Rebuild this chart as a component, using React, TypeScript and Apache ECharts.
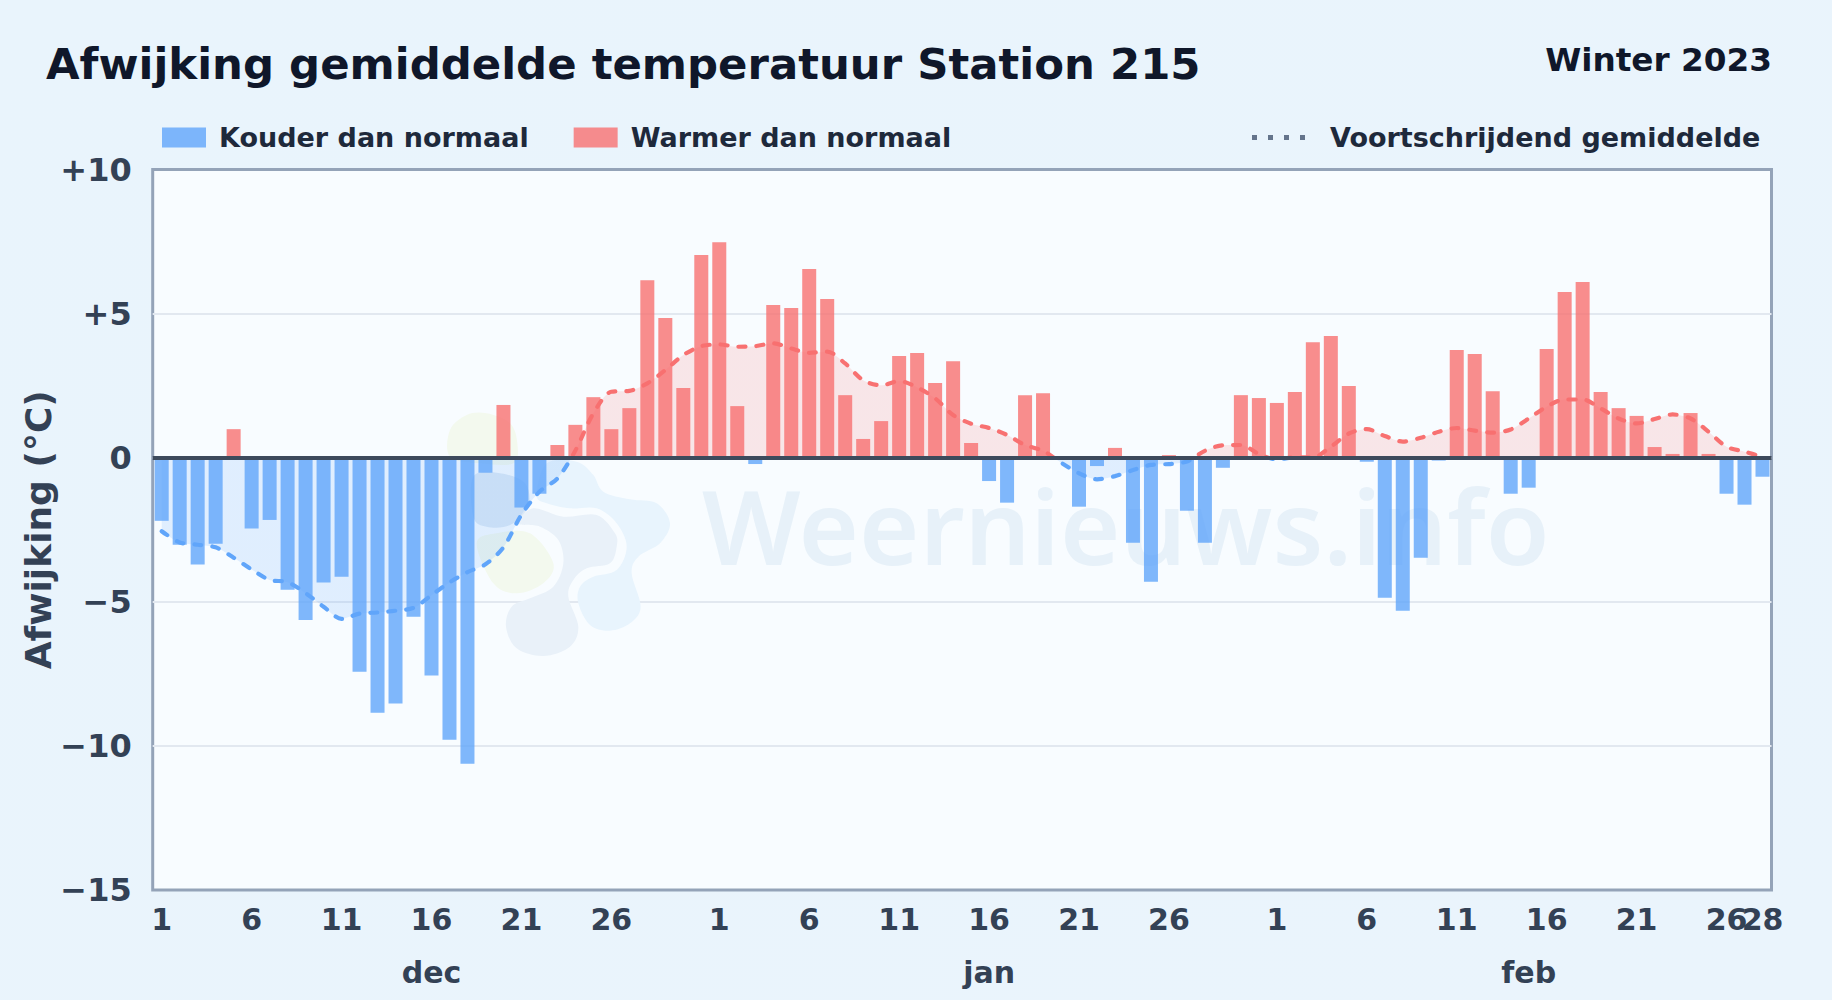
import React, { useEffect, useRef } from "react";
import * as echarts from "echarts";

const titleText = "Afwijking gemiddelde temperatuur Station 215";
const seasonText = "Winter 2023";
const coldName = "Kouder dan normaal";
const warmName = "Warmer dan normaal";
const avgName = "Voortschrijdend gemiddelde";
const yAxisName = "Afwijking (°C)";

const decDeviation = [
  -2.19, -3.02, -3.71, -2.99, 0.99, -2.46, -2.16, -4.58, -5.63, -4.33, -4.13, -7.43, -8.85, -8.53, -5.52, -7.56,
  -9.79, -10.62, -0.52, 1.83, -1.73, -1.25, 0.44, 1.14, 2.1, 0.99, 1.72, 6.16, 4.85, 2.42, 7.03,
];
const janDeviation = [
  7.48, 1.79, -0.22, 5.3, 5.19, 6.55, 5.51, 2.17, 0.65, 1.27, 3.53, 3.63, 2.59, 3.35, 0.51, -0.81,
  -1.56, 2.17, 2.24, 0, -1.7, -0.29, 0.34, -2.95, -4.3, 0.09, -1.84, -2.95, -0.35, 2.17, 2.07,
];
const febDeviation = [
  1.9, 2.28, 4.01, 4.22, 2.49, -0.14, -4.86, -5.31, -3.47, -0.1, 3.74, 3.6, 2.31, -1.25, -1.04, 3.77,
  5.75, 6.1, 2.28, 1.72, 1.45, 0.37, 0.13, 1.55, 0.13, -1.25, -1.63, -0.66,
];
const decAverage = [
  -2.55, -2.94, -3.02, -3.11, -3.47, -3.88, -4.24, -4.32, -4.7, -5.17, -5.59, -5.41, -5.37, -5.31, -5.21, -4.77,
  -4.33, -3.97, -3.7, -3.11, -1.98, -1.18, -0.72, 0.25, 1.54, 2.29, 2.32, 2.58, 3.04, 3.56, 3.87,
];
const janAverage = [
  3.93, 3.85, 3.87, 3.97, 3.79, 3.64, 3.68, 3.27, 2.69, 2.51, 2.66, 2.44, 2.06, 1.48, 1.18, 1.03,
  0.79, 0.44, 0.24, -0.17, -0.54, -0.75, -0.64, -0.43, -0.25, -0.22, -0.13, 0.24, 0.43, 0.44, 0.13,
];
const febAverage = [
  -0.06, 0.01, 0.01, 0.38, 0.84, 0.99, 0.75, 0.56, 0.69, 0.9, 1.03, 0.94, 0.87, 0.98, 1.36, 1.77,
  2.02, 2.02, 1.71, 1.36, 1.19, 1.34, 1.5, 1.36, 0.9, 0.38, 0.21, 0.03,
];
const decTicks = [1, 6, 11, 16, 21, 26];
const janTicks = [1, 6, 11, 16, 21, 26];
const febTicks = [1, 6, 11, 16, 21, 26];
const monthLabels = ["dec", "jan", "feb"];
const monthLabelDays = [16, 16, 15];
const monthLengths = [31, 31, 28];

const deviation = [...decDeviation, ...janDeviation, ...febDeviation];
const average = [...decAverage, ...janAverage, ...febAverage];
const categories: string[] = [];
const monthOffsets = [0, 31, 62];
monthLengths.forEach((len, m) => {
  for (let d = 1; d <= len; d++) categories.push(`${monthLabels[m]} ${d}`);
});
const dayOf = (c: string) => c.split(" ")[1];
const tickIdx = new Set<number>();
[decTicks, janTicks, febTicks].forEach((t, m) => t.forEach((d) => tickIdx.add(monthOffsets[m] + d - 1)));
const lastIdx = categories.length - 1;
const monthIdx = new Map<number, string>();
monthLabelDays.forEach((d, m) => monthIdx.set(monthOffsets[m] + d - 1, monthLabels[m]));

const coldValues = deviation.map((v) => (v < 0 ? v : null));
const warmValues = deviation.map((v) => (v >= 0 ? v : null));

// smooth closed outline for the pale watermark blobs (coordinates of the logo, not data)
function blobPath(pts: number[][]) {
  const n = pts.length;
  let d = `M${pts[0][0]} ${pts[0][1]}`;
  for (let i = 0; i < n; i++) {
    const p0 = pts[(i - 1 + n) % n], p1 = pts[i], p2 = pts[(i + 1) % n], p3 = pts[(i + 2) % n];
    const c1 = [p1[0] + (p2[0] - p0[0]) / 6, p1[1] + (p2[1] - p0[1]) / 6];
    const c2 = [p2[0] - (p3[0] - p1[0]) / 6, p2[1] - (p3[1] - p1[1]) / 6];
    d += `C${c1[0]} ${c1[1]} ${c2[0]} ${c2[1]} ${p2[0]} ${p2[1]}`;
  }
  return d + "Z";
}
const toPage = (pts: number[][]) => pts.map(([x, y]) => [430 + x / 3, 400 + y / 3]);
const logoShapes: [string, number[][], string][] = [
  ["wnGrey", [[310, 325], [400, 350], [500, 345], [555, 400], [560, 440], [540, 490], [470, 505], [430, 540], [415, 590], [445, 680], [420, 740], [340, 768], [260, 745], [228, 680], [245, 620], [300, 595], [370, 560], [400, 490], [385, 420], [330, 380], [265, 370]], "#E9F1F9"],
  ["wnSky", [[350, 190], [440, 185], [490, 225], [520, 275], [600, 298], [680, 310], [720, 370], [690, 430], [625, 470], [605, 520], [632, 620], [600, 670], [540, 692], [480, 675], [445, 610], [450, 560], [490, 530], [560, 510], [590, 440], [560, 370], [500, 325], [420, 325], [350, 310], [320, 285]], "#E8F4FD"],
  ["wnBlue", [[130, 230], [210, 220], [285, 250], [295, 320], [240, 375], [170, 380], [130, 350]], "#DCE9F6"],
  ["wnGreenA", [[60, 90], [110, 45], [170, 40], [240, 70], [262, 130], [250, 190], [150, 190], [60, 170]], "#F3F9EE"],
  ["wnGreenB", [[140, 430], [200, 400], [300, 400], [370, 490], [340, 550], [260, 580], [190, 550]], "#F3F9EE"],
];
logoShapes.forEach(([name, pts]) => {
  echarts.graphic.registerShape(name, echarts.graphic.extendPath(blobPath(toPage(pts)), {}));
});
const dotsIcon = "path://M0 0h5v5H0zM16 0h5v5H16zM32 0h5v5H32zM48 0h5v5H48z";

const font = "DejaVu Sans";
const axisColor = "#334155";
const hiddenAxisParts = { axisLine: { show: false }, axisTick: { show: false }, splitLine: { show: false } };
const dayLabelStyle = { margin: 14, color: axisColor, fontFamily: font, fontSize: 30, fontWeight: "bold" };

export default function App() {
  const ref = useRef<HTMLDivElement>(null);
  useEffect(() => {
    document.body.style.margin = "0";
    const chart = echarts.init(ref.current!, undefined, { renderer: "svg" });
    chart.setOption({
      animation: false,
      backgroundColor: {
        type: "linear", x: 0, y: 0, x2: 1, y2: 1,
        colorStops: [{ offset: 0, color: "#E9F4FC" }, { offset: 1, color: "#EAF4FC" }],
      },
      textStyle: { fontFamily: font },
      title: [
        { text: titleText, left: 46, top: 42, padding: 0, textStyle: { fontFamily: font, fontSize: 43.4, fontWeight: "bold", color: "#0F172A" } },
        { text: seasonText, right: 60, top: 43.5, padding: 0, textStyle: { fontFamily: font, fontSize: 32.7, fontWeight: "bold", color: "#0F172A" } },
      ],
      legend: [
        {
          left: 162, top: 124, padding: 0, itemWidth: 44, itemHeight: 20, itemGap: 45, icon: "rect",
          data: [coldName, warmName],
          textStyle: { fontFamily: font, fontSize: 27, fontWeight: "bold", color: "#1E293B", padding: [0, 0, 0, 8] },
        },
        {
          left: 1252, top: 124, padding: 0, itemWidth: 55, itemHeight: 5,
          data: [{ name: avgName, icon: dotsIcon, itemStyle: { color: "#64748B" } }],
          textStyle: { fontFamily: font, fontSize: 27, fontWeight: "bold", color: "#1E293B", padding: [0, 0, 0, 19] },
        },
      ],
      grid: {
        left: 152.7, top: 169.5, width: 1618.8, height: 720.5,
        show: true, backgroundColor: "#F8FCFF", borderColor: "#94A3B8", borderWidth: 3,
      },
      xAxis: [
        {
          type: "category", data: categories, position: "bottom", ...hiddenAxisParts,
          axisLabel: {
            ...dayLabelStyle,
            interval: (i: number) => tickIdx.has(i),
            formatter: (v: string) => dayOf(v),
          },
        },
        {
          type: "category", data: categories, position: "bottom", ...hiddenAxisParts,
          axisLabel: {
            ...dayLabelStyle,
            interval: (i: number) => i === lastIdx,
            formatter: (v: string) => dayOf(v),
          },
        },
        {
          type: "category", data: categories, position: "bottom", ...hiddenAxisParts,
          axisLabel: {
            interval: (i: number) => monthIdx.has(i),
            formatter: (_: string, i: number) => monthIdx.get(i) ?? "",
            margin: 67, color: axisColor, fontFamily: font, fontSize: 30, fontWeight: "bold",
          },
        },
      ],
      yAxis: {
        type: "value", min: -15, max: 10, interval: 5,
        name: yAxisName, nameLocation: "middle", nameGap: 96, nameRotate: 90, nameMoveOverlap: false,
        nameTextStyle: { fontFamily: font, fontSize: 36, fontWeight: "bold", color: axisColor },
        axisLine: { show: false }, axisTick: { show: false },
        splitLine: { show: true, showMinLine: false, showMaxLine: false, lineStyle: { color: "#E2E8F0", width: 2 } },
        axisLabel: {
          margin: 21, color: axisColor, fontFamily: font, fontSize: 32, fontWeight: "bold",
          formatter: (v: number) => (v > 0 ? `+${v}` : v < 0 ? `\u2212${Math.abs(v)}` : "0"),
        },
      },
      visualMap: {
        show: false, seriesIndex: 2, dimension: 1,
        pieces: [{ gte: -20, lte: 0, color: "#60A5FA" }, { gt: 0, lte: 20, color: "#F87171" }],
      },
      graphic: {
        elements: [
          ...logoShapes.map(([name, , fill]) => ({ type: name, x: 0, y: 0, z: 1, silent: true, style: { fill } })),
          {
            type: "text", x: 702, y: 524, z: 1, silent: true,
            style: { text: "Weernieuws.info", font: '600 103.5px "Noto Sans"', verticalAlign: "middle", fill: "#E7F1F9" },
          },
        ],
      },
      series: [
        {
          name: coldName, type: "bar", data: coldValues, barWidth: 14, barGap: "-100%", z: 3,
          itemStyle: { color: "#60A5FA", opacity: 0.8 },
          markLine: {
            silent: true, symbol: "none", label: { show: false }, z: 6,
            lineStyle: { color: "#3D4A5C", width: 4, type: "solid" },
            data: [{ yAxis: 0 }],
          },
        },
        {
          name: warmName, type: "bar", data: warmValues, barWidth: 14, barGap: "-100%", z: 3,
          itemStyle: { color: "#F87171", opacity: 0.8 },
        },
        {
          name: avgName, type: "line", data: average, smooth: 0.3, symbol: "none", z: 2,
          lineStyle: { width: 4.2, type: [7, 11], cap: "round" },
          areaStyle: { opacity: 0.16 },
        },
      ],
    });
    return () => chart.dispose();
  }, []);
  return <div ref={ref} style={{ position: "absolute", left: 0, top: 0, width: 1832, height: 1000 }} />;
}
